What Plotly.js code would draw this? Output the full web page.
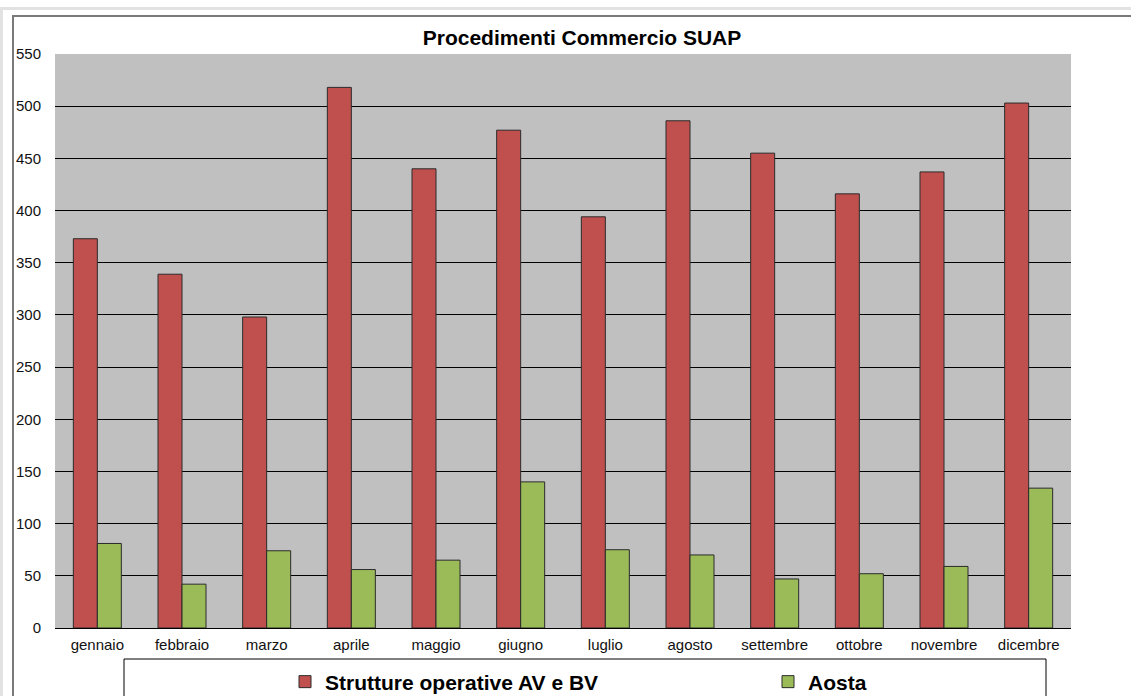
<!DOCTYPE html>
<html>
<head>
<meta charset="utf-8">
<script src="https://cdn.plot.ly/plotly-3.0.1.min.js"></script>
<style>
  html, body { margin: 0; padding: 0; background: #ffffff; }
  #wrap { position: relative; width: 1131px; height: 696px; overflow: hidden; }
  #outer { position: absolute; left: 0; top: 7px; width: 1131px; height: 700px;
           border-top: 3px solid #e2e2e2; border-left: 3px solid #e2e2e2; box-sizing: border-box; }
  #inner { position: absolute; left: 12px; top: 15px; width: 1131px; height: 700px;
           border-top: 2px solid #7a7a7a; border-left: 2px solid #7a7a7a; box-sizing: border-box; }
  #chart { position: absolute; left: 0; top: 0; width: 1131px; height: 696px; }
</style>
</head>
<body>
<div id="wrap">
  <div id="outer"></div>
  <div id="inner"></div>
  <div id="chart"></div>
</div>
<script>
const months = ["gennaio", "febbraio", "marzo", "aprile", "maggio", "giugno",
                "luglio", "agosto", "settembre", "ottobre", "novembre", "dicembre"];
const strutture = [373, 339, 298, 518, 440, 477, 394, 486, 455, 416, 437, 503];
const aosta = [81, 42, 74, 56, 65, 140, 75, 70, 47, 52, 59, 134];
const seriesNames = ["Strutture operative AV e BV", "Aosta"];
const chartTitle = "Procedimenti Commercio SUAP";

const W = 1131, H = 696;
const M = { l: 55, r: 60, t: 54, b: 68, autoexpand: false };
const pw = W - M.l - M.r, ph = H - M.t - M.b;
const px = v => (v - M.l) / pw;           // pixel -> paper x
const py = v => (H - M.b - v) / ph;       // pixel -> paper y

const traces = [
  { type: "bar", name: seriesNames[0], x: months, y: strutture, legend: "legend",
    marker: { color: "#C0504D", line: { color: "#2b2b2b", width: 1 } } },
  { type: "bar", name: seriesNames[1], x: months, y: aosta, legend: "legend2",
    marker: { color: "#9BBB59", line: { color: "#2b2b2b", width: 1 } } }
];

const legFont = { size: 21, color: "#000", family: "Liberation Sans, Arial, sans-serif", weight: "bold" };
const legBase = { orientation: "h", xanchor: "left", yanchor: "middle", y: py(682),
                  bgcolor: "rgba(0,0,0,0)", borderwidth: 0, itemwidth: 30, font: legFont };

const layout = {
  width: W, height: H,
  margin: M,
  paper_bgcolor: "rgba(0,0,0,0)",
  plot_bgcolor: "#C0C0C0",
  font: { family: "Liberation Sans, Arial, sans-serif", color: "#000" },
  title: { text: "<b>" + chartTitle + "</b>", font: { size: 21, color: "#000" },
           x: 582 / W, xanchor: "center", xref: "container",
           y: 1 - 38 / H, yanchor: "middle", yref: "container" },
  barmode: "group", bargap: 0.433, bargroupgap: 0,
  xaxis: { type: "category", showgrid: false, showline: false, zeroline: false,
           ticks: "", tickfont: { size: 15, color: "#111" }, ticklabelstandoff: 6 },
  yaxis: { range: [0, 550], dtick: 50, showgrid: true, gridcolor: "#000", gridwidth: 1,
           zeroline: true, zerolinecolor: "#000", zerolinewidth: 1, showline: false,
           ticks: "", tickfont: { size: 15, color: "#111" }, ticklabelstandoff: 13 },
  showlegend: true,
  legend: Object.assign({}, legBase, { x: px(285) }),
  legend2: Object.assign({}, legBase, { x: px(768) }),
  shapes: [
    { type: "rect", xref: "paper", yref: "paper", x0: px(124), x1: px(1046), y0: py(659), y1: py(710),
      line: { color: "#000", width: 1 }, fillcolor: "rgba(0,0,0,0)", layer: "above" }
  ]
};

Plotly.newPlot("chart", traces, layout, { displayModeBar: false, staticPlot: true });
</script>
</body>
</html>
